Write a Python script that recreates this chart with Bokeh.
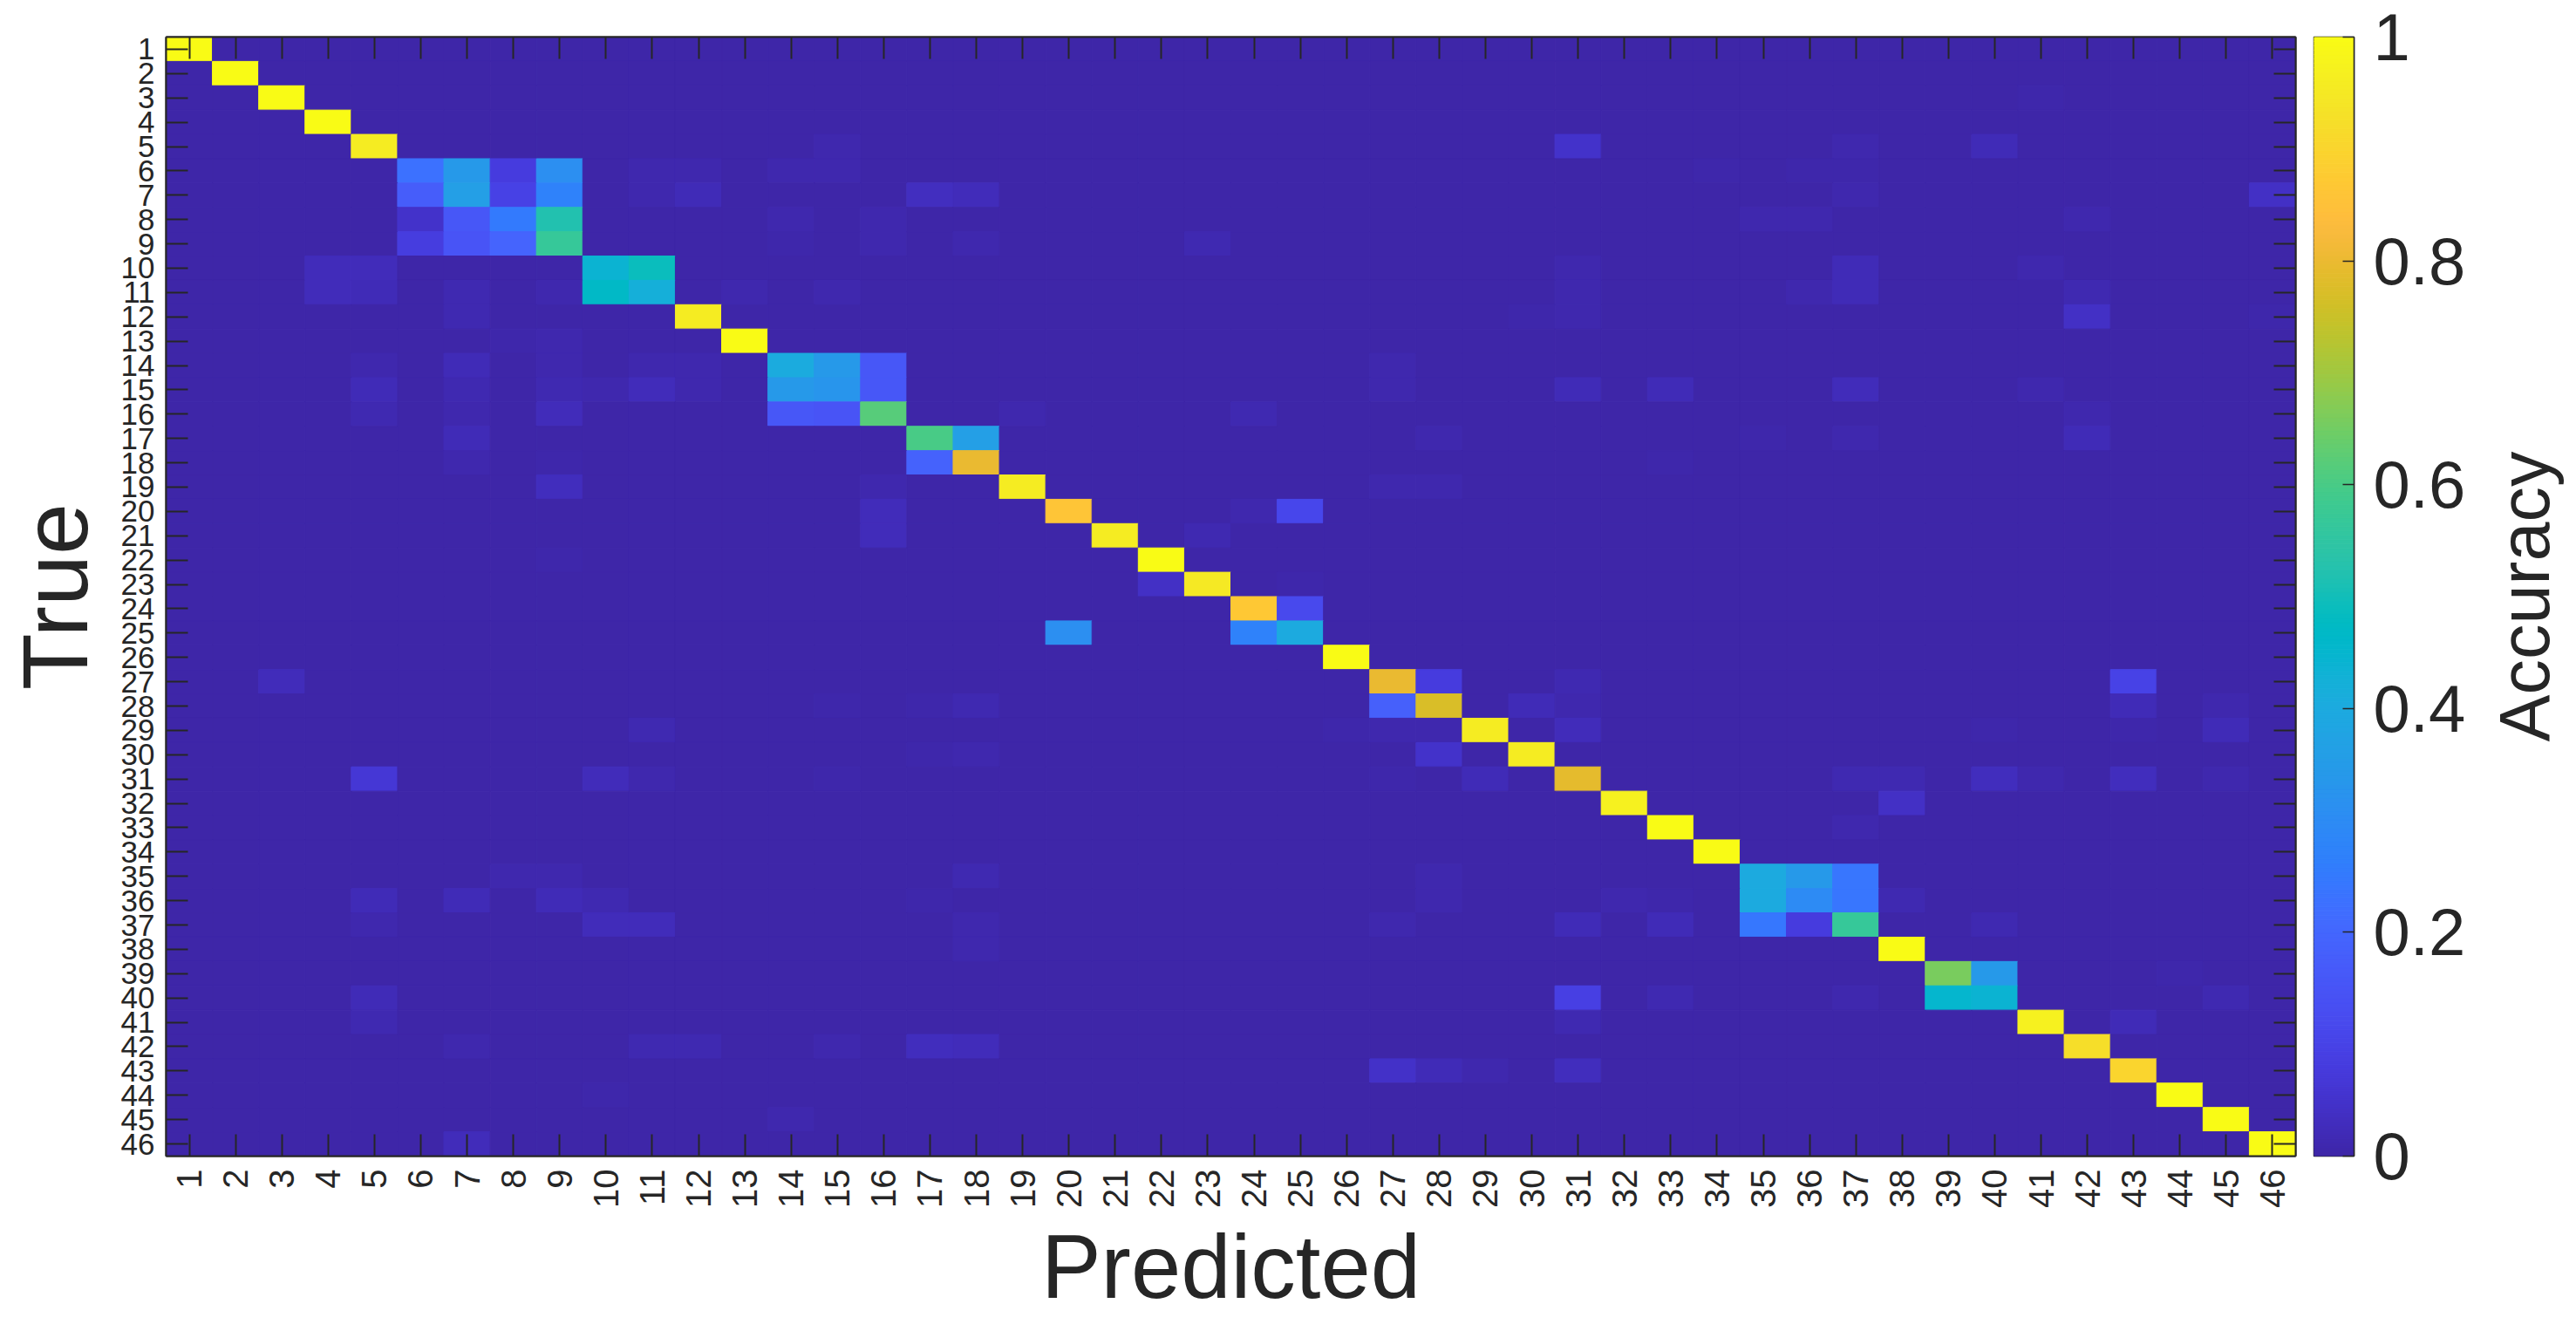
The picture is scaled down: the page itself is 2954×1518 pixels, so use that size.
import numpy as np
from bokeh.plotting import figure
from bokeh.models import (ColumnDataSource, LinearColorMapper, FixedTicker, LinearAxis,
                          Range1d, NumeralTickFormatter)
from bokeh.layouts import row
from bokeh.transform import transform
from bokeh.embed import file_html
from bokeh.resources import INLINE

# ---------------- data ----------------
class_labels = [str(i) for i in range(1, 47)]

diag_values = [1.0, 1.0, 1.0, 1.0, 0.96, 0.23, 0.36, 0.25, 0.57, 0.44,
               0.42, 0.96, 1.0, 0.405, 0.33, 0.62, 0.60, 0.80, 0.96, 0.86,
               0.96, 1.0, 0.95, 0.87, 0.40, 1.0, 0.80, 0.77, 0.96, 0.96,
               0.79, 0.97, 1.0, 1.0, 0.40, 0.30, 0.57, 1.0, 0.66, 0.44,
               0.97, 0.925, 0.90, 1.0, 1.0, 1.0]

off_rows = [3,
            5, 5, 5, 5,
            6, 6, 6, 6, 6, 6, 6, 6, 6, 6,
            7, 7, 7, 7, 7, 7, 7, 7, 7,
            8, 8, 8, 8, 8, 8, 8, 8,
            9, 9, 9, 9, 9, 9, 9,
            10, 10, 10, 10, 10, 10,
            11, 11, 11, 11, 11, 11, 11, 11, 11, 11, 11,
            12, 12, 12, 12, 12,
            13, 13,
            14, 14, 14, 14, 14, 14, 14, 14,
            15, 15, 15, 15, 15, 15, 15, 15, 15, 15, 15, 15, 15,
            16, 16, 16, 16, 16, 16, 16, 16,
            17, 17, 17, 17, 17, 17,
            18, 18, 18, 18,
            19, 19, 19, 19,
            20, 20, 20,
            21, 21,
            22,
            23, 23,
            24,
            25, 25,
            27, 27, 27, 27,
            28, 28, 28, 28, 28, 28, 28, 28,
            29, 29, 29, 29, 29, 29, 29, 29,
            30, 30, 30,
            31, 31, 31, 31, 31, 31, 31, 31, 31, 31, 31, 31,
            32,
            33,
            35, 35, 35, 35, 35, 35,
            36, 36, 36, 36, 36, 36, 36, 36, 36, 36, 36,
            37, 37, 37, 37, 37, 37, 37, 37, 37, 37,
            38,
            39, 39,
            40, 40, 40, 40, 40, 40,
            41, 41, 41,
            42, 42, 42, 42, 42, 42,
            43, 43, 43, 43,
            44,
            45,
            46]

off_cols = [41,
            15, 31, 37, 40,
            7, 8, 9, 11, 12, 14, 15, 34, 36, 37,
            6, 8, 9, 11, 12, 17, 18, 37, 46,
            6, 7, 9, 14, 16, 35, 36, 42,
            6, 7, 8, 14, 16, 18, 23,
            4, 5, 11, 31, 37, 41,
            4, 5, 7, 9, 10, 13, 15, 31, 36, 37, 42,
            7, 30, 31, 42, 46,
            8, 9,
            5, 7, 9, 11, 12, 15, 16, 27,
            5, 7, 9, 10, 11, 12, 14, 16, 27, 31, 33, 37, 41,
            5, 7, 9, 14, 15, 19, 24, 42,
            7, 18, 28, 35, 37, 42,
            7, 9, 17, 33,
            9, 16, 27, 28,
            16, 24, 25,
            16, 23,
            9,
            22, 25,
            25,
            20, 24,
            3, 28, 31, 43,
            15, 17, 18, 27, 30, 31, 43, 45,
            11, 26, 27, 28, 31, 40, 43, 45,
            17, 18, 28,
            5, 10, 11, 15, 27, 29, 37, 38, 40, 41, 43, 45,
            38,
            37,
            8, 9, 18, 28, 36, 37,
            5, 7, 9, 10, 17, 28, 32, 33, 35, 37, 38,
            5, 10, 11, 18, 27, 31, 33, 35, 36, 40,
            18,
            40, 44,
            5, 31, 33, 37, 39, 45,
            5, 31, 43,
            7, 11, 12, 15, 17, 18,
            27, 28, 29, 31,
            10,
            14,
            7]

off_vals = [0.005,
            0.01, 0.05, 0.01, 0.02,
            0.34, 0.08, 0.31, 0.01, 0.01, 0.01, 0.01, 0.005, 0.005, 0.005,
            0.175, 0.095, 0.27, 0.01, 0.02, 0.035, 0.025, 0.01, 0.04,
            0.05, 0.16, 0.52, 0.01, 0.01, 0.01, 0.01, 0.01,
            0.085, 0.15, 0.195, 0.005, 0.01, 0.01, 0.015,
            0.025, 0.025, 0.49, 0.01, 0.02, 0.01,
            0.025, 0.02, 0.015, 0.01, 0.47, 0.01, 0.01, 0.01, 0.01, 0.02, 0.015,
            0.015, 0.005, 0.01, 0.04, 0.005,
            0.005, 0.01,
            0.01, 0.02, 0.01, 0.01, 0.01, 0.34, 0.16, 0.01,
            0.02, 0.015, 0.015, 0.01, 0.025, 0.01, 0.34, 0.16, 0.01, 0.02, 0.02, 0.025, 0.01,
            0.015, 0.01, 0.025, 0.16, 0.15, 0.01, 0.015, 0.01,
            0.02, 0.36, 0.01, 0.005, 0.01, 0.02,
            0.01, 0.005, 0.19, 0.005,
            0.03, 0.01, 0.01, 0.01,
            0.025, 0.01, 0.11,
            0.025, 0.015,
            0.005,
            0.04, 0.005,
            0.12,
            0.31, 0.27,
            0.025, 0.08, 0.015, 0.10,
            0.005, 0.005, 0.015, 0.18, 0.02, 0.01, 0.02, 0.01,
            0.015, 0.005, 0.01, 0.01, 0.025, 0.005, 0.005, 0.02,
            0.005, 0.01, 0.05,
            0.065, 0.025, 0.01, 0.005, 0.005, 0.02, 0.015, 0.015, 0.03, 0.01, 0.03, 0.01,
            0.04,
            0.01,
            0.01, 0.01, 0.015, 0.01, 0.34, 0.24,
            0.02, 0.02, 0.02, 0.015, 0.005, 0.01, 0.01, 0.005, 0.40, 0.24, 0.015,
            0.01, 0.025, 0.025, 0.01, 0.01, 0.02, 0.02, 0.245, 0.08, 0.015,
            0.01,
            0.34, 0.005,
            0.02, 0.09, 0.015, 0.01, 0.45, 0.015,
            0.015, 0.015, 0.02,
            0.01, 0.015, 0.015, 0.01, 0.03, 0.025,
            0.045, 0.02, 0.01, 0.03,
            0.005,
            0.01,
            0.025]

cbar_ticks = [0, 0.2, 0.4, 0.6, 0.8, 1]

x_title = "Predicted"
y_title = "True"
cbar_title = "Accuracy"

# ---------------- parula colormap (style) ----------------
PARULA64 = [
    (0.2422, 0.1504, 0.6603), (0.2504, 0.1650, 0.7076), (0.2578, 0.1818, 0.7511), (0.2647, 0.1978, 0.7952),
    (0.2706, 0.2147, 0.8364), (0.2751, 0.2342, 0.8710), (0.2783, 0.2559, 0.8991), (0.2803, 0.2782, 0.9221),
    (0.2813, 0.3006, 0.9414), (0.2810, 0.3228, 0.9579), (0.2795, 0.3447, 0.9717), (0.2760, 0.3667, 0.9829),
    (0.2699, 0.3892, 0.9906), (0.2602, 0.4123, 0.9952), (0.2440, 0.4358, 0.9988), (0.2206, 0.4603, 0.9973),
    (0.1963, 0.4847, 0.9892), (0.1834, 0.5074, 0.9798), (0.1786, 0.5289, 0.9682), (0.1764, 0.5499, 0.9520),
    (0.1687, 0.5703, 0.9359), (0.1540, 0.5902, 0.9218), (0.1460, 0.6091, 0.9079), (0.1380, 0.6276, 0.8973),
    (0.1248, 0.6459, 0.8883), (0.1113, 0.6635, 0.8763), (0.0952, 0.6798, 0.8598), (0.0689, 0.6948, 0.8394),
    (0.0297, 0.7082, 0.8163), (0.0036, 0.7203, 0.7917), (0.0067, 0.7312, 0.7660), (0.0433, 0.7411, 0.7394),
    (0.0964, 0.7500, 0.7120), (0.1408, 0.7584, 0.6842), (0.1717, 0.7670, 0.6554), (0.1938, 0.7758, 0.6251),
    (0.2161, 0.7843, 0.5923), (0.2470, 0.7918, 0.5567), (0.2906, 0.7973, 0.5188), (0.3406, 0.8008, 0.4789),
    (0.3909, 0.8029, 0.4354), (0.4456, 0.8024, 0.3909), (0.5044, 0.7993, 0.3480), (0.5616, 0.7942, 0.3045),
    (0.6174, 0.7876, 0.2612), (0.6720, 0.7793, 0.2227), (0.7242, 0.7698, 0.1910), (0.7738, 0.7598, 0.1646),
    (0.8203, 0.7498, 0.1535), (0.8634, 0.7406, 0.1596), (0.9035, 0.7330, 0.1774), (0.9393, 0.7288, 0.2100),
    (0.9728, 0.7298, 0.2394), (0.9956, 0.7434, 0.2371), (0.9970, 0.7659, 0.2199), (0.9952, 0.7893, 0.2028),
    (0.9892, 0.8136, 0.1885), (0.9786, 0.8386, 0.1766), (0.9676, 0.8639, 0.1643), (0.9610, 0.8890, 0.1537),
    (0.9597, 0.9135, 0.1423), (0.9628, 0.9373, 0.1265), (0.9691, 0.9606, 0.1064), (0.9769, 0.9839, 0.0805)]

_tab = np.array(PARULA64)
_src = np.linspace(0, 1, len(PARULA64))
_dst = np.linspace(0, 1, 256)
_rgb = np.stack([np.interp(_dst, _src, _tab[:, k]) for k in range(3)], axis=1)
parula = ["#%02x%02x%02x" % tuple(int(round(c * 255)) for c in rgb) for rgb in _rgb]

mapper = LinearColorMapper(palette=parula, low=0.0, high=1.0)

# ---------------- build matrix ----------------
n = len(class_labels)
mat = np.zeros((n, n))
for i, v in enumerate(diag_values):
    mat[i, i] = v
for r, c, v in zip(off_rows, off_cols, off_vals):
    mat[r - 1, c - 1] = v

xs, ys, vs = [], [], []
for r in range(n):
    for c in range(n):
        xs.append(c + 1)
        ys.append(r + 1)
        vs.append(mat[r, c])
source = ColumnDataSource(dict(x=xs, y=ys, v=vs))

FONT = "Liberation Sans"
INK = "#262626"
H = 1512
BT = 42     # border top
BB = H - 1330  # border bottom

# ---------------- main heatmap ----------------
p = figure(width=2648, height=H,
           x_range=Range1d(0.5, n + 0.5), y_range=Range1d(n + 0.5, 0.5),
           output_backend="svg", toolbar_location=None,
           min_border_left=190, min_border_right=16,
           min_border_top=BT, min_border_bottom=BB)
p.grid.visible = False
p.outline_line_color = INK
p.outline_line_width = 2

p.rect(x="x", y="y", width=1, height=1, source=source,
       fill_color=transform("v", mapper), line_color=transform("v", mapper), line_width=1)

ticks = list(range(1, n + 1))
overrides = {i + 1: lab for i, lab in enumerate(class_labels)}


def style_axis(ax, font_size, standoff, show_labels=True):
    ax.ticker = FixedTicker(ticks=ticks)
    ax.major_tick_in = 25
    ax.major_tick_out = 0
    ax.minor_tick_line_color = None
    ax.major_tick_line_color = INK
    ax.major_tick_line_width = 2
    ax.axis_line_color = INK
    ax.axis_line_width = 2
    ax.major_label_text_font = FONT
    ax.major_label_standoff = standoff
    ax.major_label_text_font_size = font_size
    if show_labels:
        ax.major_label_overrides = overrides
        ax.major_label_text_color = INK
    else:
        ax.major_label_text_color = None
    ax.axis_label_text_font = FONT
    ax.axis_label_text_font_style = "normal"
    ax.axis_label_text_color = INK


xa = p.xaxis[0]
style_axis(xa, "40px", 15)
xa.major_label_orientation = np.pi / 2
xa.axis_label = x_title
xa.axis_label_text_font_size = "103px"
xa.axis_label_standoff = 7

ya_main = p.yaxis[0]
style_axis(ya_main, "35px", 13)
ya_main.axis_label = y_title
ya_main.axis_label_text_font_size = "106px"
ya_main.axis_label_standoff = 14

top_axis = LinearAxis()
style_axis(top_axis, "1px", 0, show_labels=False)
p.add_layout(top_axis, "above")
right_axis = LinearAxis()
style_axis(right_axis, "1px", 0, show_labels=False)
p.add_layout(right_axis, "right")

# ---------------- colorbar ----------------
cb = figure(width=191, height=H, x_range=Range1d(0, 1), y_range=Range1d(0, 1),
            output_backend="svg", toolbar_location=None,
            x_axis_location=None, y_axis_location="right",
            min_border_left=5, min_border_right=140,
            min_border_top=BT, min_border_bottom=BB)
cb.grid.visible = False
cb.outline_line_color = INK
cb.outline_line_width = 1.5
edges = np.linspace(0, 1, len(parula) + 1)
cb.quad(left=0, right=1, bottom=edges[:-1], top=edges[1:],
        fill_color=parula, line_color=parula, line_width=1)

ya = cb.yaxis[0]
ya.ticker = FixedTicker(ticks=cbar_ticks)
ya.formatter = NumeralTickFormatter(format="0.[0]")
ya.major_tick_in = 13
ya.major_tick_out = 0
ya.minor_tick_line_color = None
ya.major_tick_line_color = INK
ya.major_tick_line_width = 1.5
ya.axis_line_color = INK
ya.axis_line_width = 1.5
ya.major_label_text_font = FONT
ya.major_label_text_color = INK
ya.major_label_text_font_size = "76px"
ya.major_label_standoff = 22

# ---------------- colorbar title (left-axis label of a thin panel) ----------------
acc = figure(width=105, height=H, x_range=Range1d(0, 1), y_range=Range1d(0, 1),
             output_backend="svg", toolbar_location=None, x_axis_location=None,
             min_border_left=100, min_border_right=0,
             min_border_top=BT, min_border_bottom=BB)
acc.grid.visible = False
acc.outline_line_color = None
ax3 = acc.yaxis[0]
ax3.ticker = FixedTicker(ticks=[])
ax3.axis_line_color = None
ax3.major_tick_line_color = None
ax3.minor_tick_line_color = None
ax3.major_tick_in = 0
ax3.major_tick_out = 0
ax3.major_label_standoff = 0
ax3.axis_label = cbar_title
ax3.axis_label_standoff = 0
ax3.axis_label_text_font = FONT
ax3.axis_label_text_font_style = "normal"
ax3.axis_label_text_font_size = "81px"
ax3.axis_label_text_color = INK

layout = row(p, cb, acc)
open("out.html", "w").write(file_html(layout, INLINE))
